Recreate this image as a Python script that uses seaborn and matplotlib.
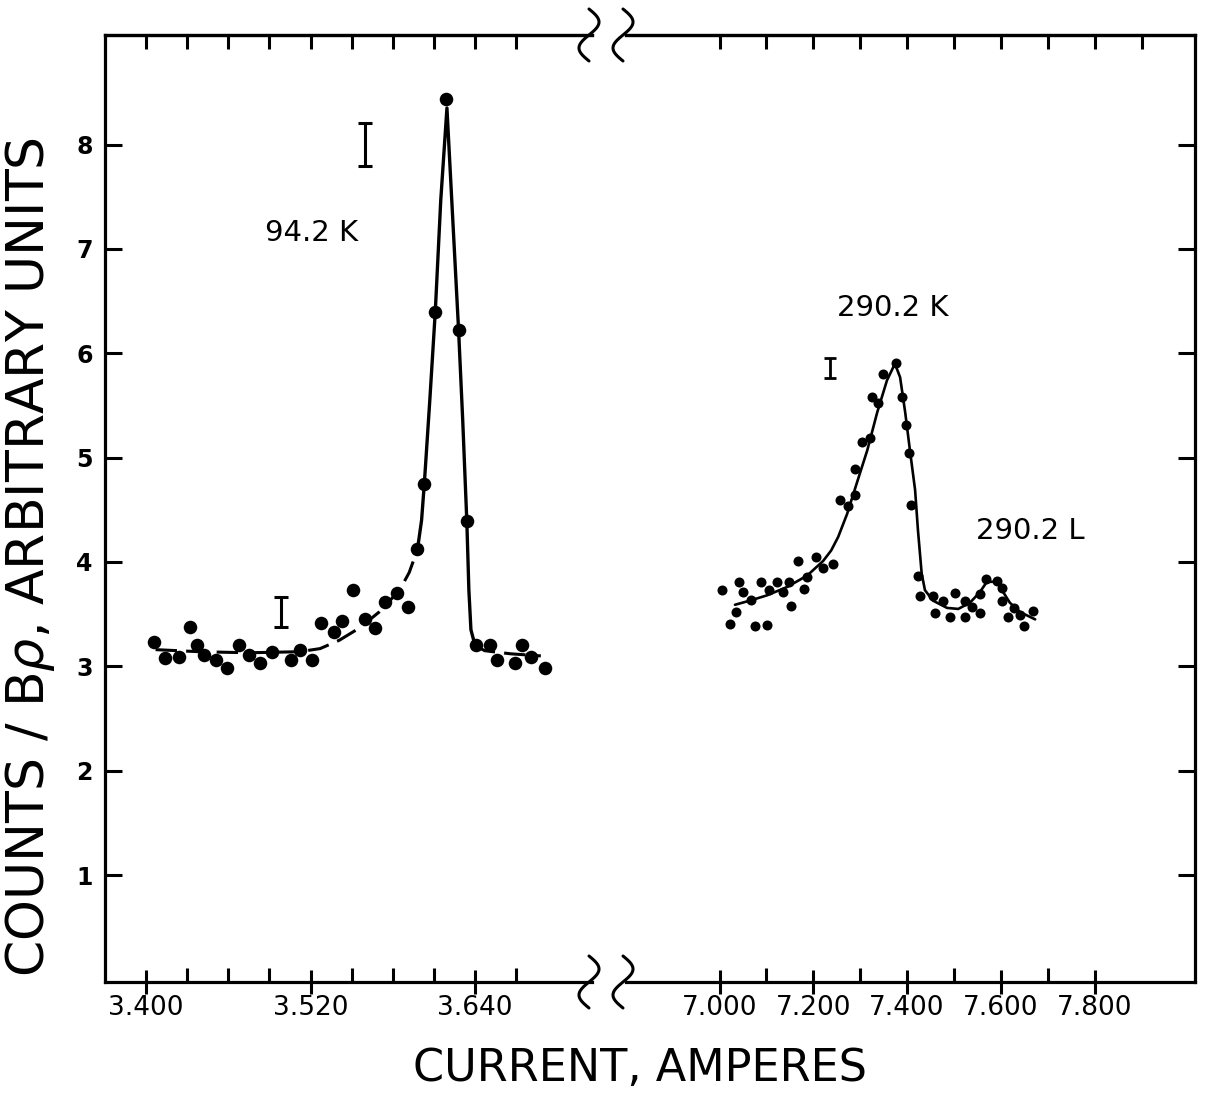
import numpy as np
import matplotlib
matplotlib.use("Agg")
import matplotlib.pyplot as plt
import seaborn as sns
from matplotlib.lines import Line2D

# ---------------- data ----------------
# 94.2 K line (left panel)
left_x = [3.406, 3.414, 3.424, 3.432, 3.437, 3.442, 3.451, 3.459, 3.468, 3.475,
          3.483, 3.492, 3.506, 3.512, 3.521, 3.528, 3.537, 3.543, 3.551, 3.560,
          3.567, 3.574, 3.583, 3.591, 3.598, 3.603, 3.611, 3.619, 3.628, 3.634,
          3.641, 3.651, 3.656, 3.669, 3.674, 3.681, 3.691]
left_y = [3.23, 3.08, 3.09, 3.38, 3.20, 3.11, 3.06, 2.98, 3.20, 3.11,
          3.03, 3.14, 3.06, 3.16, 3.06, 3.42, 3.33, 3.43, 3.73, 3.45,
          3.37, 3.62, 3.70, 3.57, 4.12, 4.75, 6.40, 8.44, 6.22, 4.39,
          3.20, 3.20, 3.06, 3.03, 3.20, 3.09, 2.98]
left_fit_x = [3.407, 3.439, 3.475, 3.512, 3.527, 3.541, 3.556, 3.570, 3.585, 3.592,
              3.598, 3.601, 3.603, 3.607, 3.611, 3.615, 3.6195, 3.623, 3.628, 3.631,
              3.634, 3.6355, 3.637, 3.640, 3.647, 3.666, 3.688]
left_fit_y = [3.16, 3.14, 3.13, 3.14, 3.17, 3.25, 3.37, 3.52, 3.73, 3.90,
              4.12, 4.40, 4.75, 5.55, 6.40, 7.47, 8.35, 7.47, 6.22, 5.36,
              4.39, 3.73, 3.35, 3.20, 3.15, 3.12, 3.10]
left_solid_range = (3.598, 3.640)

# 290.2 K / 290.2 L lines (right panel)
right_x = [7.005, 7.022, 7.035, 7.042, 7.050, 7.067, 7.076, 7.089, 7.101, 7.106,
           7.123, 7.135, 7.148, 7.153, 7.167, 7.180, 7.187, 7.206, 7.221, 7.242,
           7.257, 7.274, 7.289, 7.289, 7.304, 7.321, 7.325, 7.338, 7.349, 7.376,
           7.389, 7.398, 7.404, 7.408, 7.423, 7.428, 7.455, 7.460, 7.477, 7.492,
           7.502, 7.523, 7.523, 7.538, 7.555, 7.555, 7.568, 7.592, 7.602, 7.602,
           7.615, 7.628, 7.641, 7.649, 7.668]
right_y = [3.73, 3.41, 3.52, 3.81, 3.71, 3.64, 3.39, 3.81, 3.40, 3.73,
           3.81, 3.71, 3.81, 3.58, 4.01, 3.74, 3.86, 4.05, 3.94, 3.98,
           4.59, 4.54, 4.64, 4.89, 5.15, 5.19, 5.58, 5.52, 5.80, 5.91,
           5.58, 5.31, 5.04, 4.55, 3.87, 3.67, 3.67, 3.51, 3.63, 3.47,
           3.70, 3.47, 3.63, 3.57, 3.51, 3.69, 3.84, 3.82, 3.75, 3.63,
           3.47, 3.56, 3.49, 3.39, 3.53]
right_fit_x = [7.033, 7.065, 7.101, 7.144, 7.187, 7.221, 7.238, 7.253, 7.272, 7.293,
               7.315, 7.336, 7.357, 7.374, 7.385, 7.396, 7.406, 7.417, 7.423, 7.431,
               7.438, 7.455, 7.485, 7.509, 7.534, 7.555, 7.570, 7.592, 7.605, 7.619,
               7.641, 7.673]
right_fit_y = [3.59, 3.63, 3.68, 3.76, 3.87, 4.01, 4.11, 4.24, 4.46, 4.76,
               5.07, 5.43, 5.74, 5.90, 5.77, 5.43, 5.07, 4.69, 4.31, 3.89,
               3.73, 3.63, 3.56, 3.55, 3.61, 3.71, 3.81, 3.81, 3.71, 3.61,
               3.52, 3.45]

# error-bar symbols
left_err_x = [3.560, 3.4985]
left_err_y = [8.00, 3.52]
left_err = [0.21, 0.14]
right_err_x = [7.236]
right_err_y = [5.86]
right_err = [0.096]

# tick values / labels
left_major = [3.400, 3.520, 3.640]
left_major_labels = ["3.400", "3.520", "3.640"]
left_minor = [3.430, 3.460, 3.490, 3.550, 3.580, 3.610, 3.670]
left_top = [3.400, 3.430, 3.460, 3.490, 3.520, 3.550, 3.580, 3.610, 3.640, 3.670]
right_major = [7.0, 7.2, 7.4, 7.6, 7.8]
right_major_labels = ["7.000", "7.200", "7.400", "7.600", "7.800"]
right_minor = [7.1, 7.3, 7.5, 7.7]
right_top = [7.0, 7.1, 7.2, 7.3, 7.4, 7.5, 7.6, 7.7, 7.8, 7.9]
y_ticks = [1, 2, 3, 4, 5, 6, 7, 8]
y_tick_labels = ["1", "2", "3", "4", "5", "6", "7", "8"]

# ---------------- style ----------------
sns.set_theme(style="white")
plt.rcParams["font.family"] = ["DejaVu Sans"]
plt.rcParams["axes.linewidth"] = 2.3
plt.rcParams["text.color"] = "black"
plt.rcParams["axes.labelcolor"] = "black"
plt.rcParams["xtick.color"] = "black"
plt.rcParams["ytick.color"] = "black"

W, H = 1210, 1093
fig = plt.figure(figsize=(W / 100, H / 100), dpi=100)
fig.patch.set_facecolor("white")


def frac(px_x, px_y):
    return px_x / W, 1 - px_y / H


y_bot, y_top = 982, 35
ax1 = fig.add_axes([105 / W, 1 - y_bot / H, (592 - 105) / W, (y_bot - y_top) / H])
ax2 = fig.add_axes([626 / W, 1 - y_bot / H, (1195 - 626) / W, (y_bot - y_top) / H])

ylim = (-0.025, 9.05)
ax1.set_xlim(3.3701, 3.7253)
ax2.set_xlim(6.8006, 8.0138)
for ax in (ax1, ax2):
    ax.set_ylim(*ylim)
    ax.set_facecolor("white")
    for s in ax.spines.values():
        s.set_color("black")
        s.set_linewidth(2.3)

ax1.spines["right"].set_visible(False)
ax2.spines["left"].set_visible(False)

# ---------------- marks ----------------
lx = np.array(left_fit_x)
ly = np.array(left_fit_y)
lo, hi = left_solid_range
m_a = lx <= lo
m_b = (lx >= lo) & (lx <= hi)
m_c = lx >= hi
sns.lineplot(x=lx[m_a], y=ly[m_a], ax=ax1, color="black", lw=2.2,
             linestyle=(0, (7, 3)), sort=False, estimator=None)
sns.lineplot(x=lx[m_b], y=ly[m_b], ax=ax1, color="black", lw=2.4,
             sort=False, estimator=None)
sns.lineplot(x=lx[m_c], y=ly[m_c], ax=ax1, color="black", lw=2.2,
             linestyle=(0, (7, 3)), sort=False, estimator=None)
sns.scatterplot(x=left_x, y=left_y, ax=ax1, color="black", s=95,
                edgecolor="black", linewidth=0, zorder=3)

sns.lineplot(x=right_fit_x, y=right_fit_y, ax=ax2, color="black", lw=1.9,
             sort=False, estimator=None)
sns.scatterplot(x=right_x, y=right_y, ax=ax2, color="black", s=52,
                edgecolor="black", linewidth=0, zorder=3)

ax1.errorbar(left_err_x, left_err_y, yerr=left_err, fmt="none", ecolor="black",
             elinewidth=2.2, capsize=5, capthick=2.2)
ax2.errorbar(right_err_x, right_err_y, yerr=right_err, fmt="none", ecolor="black",
             elinewidth=2.0, capsize=4, capthick=2.0)

# annotations
ax1.text(3.521, 7.15, "94.2 K", fontsize=21, ha="center", va="center", color="black")
ax2.text(7.370, 6.43, "290.2 K", fontsize=21, ha="center", va="center", color="black")
ax2.text(7.662, 4.30, "290.2 L", fontsize=21, ha="center", va="center", color="black")

# ---------------- ticks ----------------
for ax, major, mlabels, minor, top in (
        (ax1, left_major, left_major_labels, left_minor, left_top),
        (ax2, right_major, right_major_labels, right_minor, right_top)):
    ax.set_xticks(major, labels=mlabels)
    ax.set_xticks(minor, minor=True)
    ax.tick_params(axis="x", which="major", direction="inout", length=17, width=2.2,
                   bottom=True, top=False, labelsize=19, pad=1, colors="black")
    ax.tick_params(axis="x", which="minor", direction="in", length=10, width=2.2,
                   bottom=True, top=False)
    sec = ax.secondary_xaxis("top")
    sec.set_xticks(top, labels=[""] * len(top))
    sec.tick_params(axis="x", direction="in", length=10, width=2.2, colors="black")
    sec.spines["top"].set_linewidth(2.3)
    sec.spines["top"].set_color("black")
    ax.set_yticks(y_ticks, labels=y_tick_labels)

ax1.tick_params(axis="y", direction="in", length=12, width=2.2, left=True,
                right=False, labelsize=17, pad=9, colors="black")
for lab in ax1.get_yticklabels():
    lab.set_fontweight("bold")
ax2.yaxis.tick_right()
ax2.tick_params(axis="y", direction="in", length=12, width=2.2, right=True,
                left=False, labelright=False, labelleft=False)

ax1.set_xlabel("")
ax1.set_ylabel("")
ax2.set_xlabel("")
ax2.set_ylabel("")

# axis titles
fig.text(*frac(30, 557), r"COUNTS / B$\rho$, ARBITRARY UNITS", rotation=90,
         ha="center", va="center", fontsize=37.5, color="black")
fig.text(*frac(640, 1068), "CURRENT, AMPERES", ha="center", va="center",
         fontsize=32, color="black")

# ---------------- axis-break marks ----------------
t = np.linspace(0, 1, 80)
for yc in (y_top, y_bot):
    for xc in (589, 623):
        px = xc + 10 * np.sin(2 * np.pi * t)
        py = yc - 26 + 52 * t
        fx, fy = frac(px, py)
        fig.add_artist(Line2D(fx, fy, transform=fig.transFigure, color="black",
                              lw=2.2, solid_capstyle="round"))

fig.savefig("out.png", dpi=100, facecolor="white")
